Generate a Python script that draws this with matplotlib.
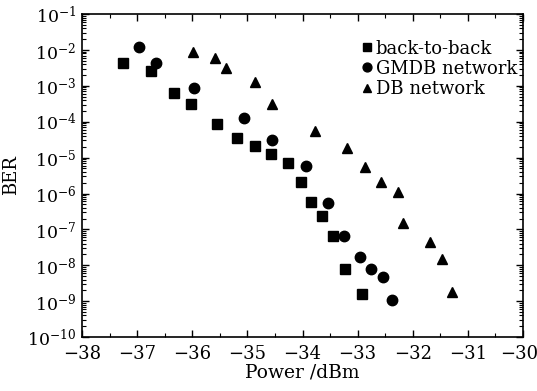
import numpy as np
import matplotlib
matplotlib.use("Agg")
import matplotlib.pyplot as plt
import matplotlib.transforms as mtransforms
from matplotlib.ticker import LogLocator, FixedLocator

plt.rcParams['font.family'] = 'DejaVu Serif'
plt.rcParams['mathtext.fontset'] = 'dejavuserif'

# back-to-back
b2b_x = [-37.25, -36.74, -36.34, -36.03, -35.56, -35.18, -34.87, -34.58, -34.27,
         -34.03, -33.85, -33.64, -33.45, -33.23, -32.92]
b2b_y = [4.3e-3, 2.6e-3, 6.3e-4, 3.1e-4, 8.7e-5, 3.5e-5, 2.1e-5, 1.26e-5, 7e-6,
         2.1e-6, 5.7e-7, 2.4e-7, 6.7e-8, 7.9e-9, 1.6e-9]

# GMDB network
gmdb_x = [-36.96, -36.66, -35.96, -35.07, -34.55, -33.94, -33.54, -33.25, -32.95,
          -32.75, -32.54, -32.37]
gmdb_y = [1.2e-2, 4.4e-3, 8.9e-4, 1.24e-4, 3e-5, 6e-6, 5.4e-7, 6.7e-8, 1.7e-8,
          7.9e-9, 4.6e-9, 1.07e-9]

# DB network
db_x = [-35.98, -35.58, -35.38, -34.87, -34.56, -33.78, -33.19, -32.87, -32.58,
        -32.27, -32.17, -31.68, -31.47, -31.29]
db_y = [8.9e-3, 5.8e-3, 3.1e-3, 1.3e-3, 3.05e-4, 5.5e-5, 1.9e-5, 5.6e-6, 2.05e-6,
        1.07e-6, 1.5e-7, 4.4e-8, 1.5e-8, 1.8e-9]

x_ticks = list(range(-38, -29))
x_minor = [v + 0.5 for v in range(-38, -30)]
y_exps = list(range(-10, 0))

fig = plt.figure(figsize=(5.37, 3.91), dpi=100)
ax = fig.add_axes([0.1527, 0.138, 0.8213, 0.826])

ax.semilogy(b2b_x, b2b_y, 's', color='black', ms=7, linestyle='none', label='back-to-back')
ax.semilogy(gmdb_x, gmdb_y, 'o', color='black', ms=7.5, linestyle='none', label='GMDB network')
ax.semilogy(db_x, db_y, '^', color='black', ms=6.5, linestyle='none', label='DB network')

ax.set_xlim(-38, -30)
ax.set_ylim(1e-10, 1e-1)
ax.xaxis.set_major_locator(FixedLocator(x_ticks))
ax.xaxis.set_minor_locator(FixedLocator(x_minor))
ax.yaxis.set_major_locator(FixedLocator([10.0 ** k for k in y_exps]))
ax.yaxis.set_minor_locator(LogLocator(base=10, subs=np.arange(2, 10), numticks=20))
ax.set_xticklabels(['\u2212%d' % (-v) for v in x_ticks])
ax.set_yticklabels(['$10^{%d}$' % k for k in y_exps])

ax.tick_params(which='both', direction='in', top=True, right=True)
ax.tick_params(axis='x', labelsize=13, pad=6)
ax.tick_params(axis='y', labelsize=12.5, pad=4)
ax.tick_params(which='major', length=5, width=1)
ax.tick_params(which='minor', length=3, width=0.8)
for s in ax.spines.values():
    s.set_linewidth(1.2)

# keep the last x label inside the canvas
last = ax.get_xticklabels()[-1]
last.set_transform(last.get_transform() +
                   mtransforms.ScaledTranslation(-4 / 100, 0, fig.dpi_scale_trans))

ax.set_xlabel('Power /dBm', fontsize=13.5, labelpad=0)
ax.set_ylabel('BER', fontsize=13, labelpad=5)

ax.legend(loc='upper right', bbox_to_anchor=(1.015, 0.96), frameon=False, fontsize=13,
          handletextpad=0.0, handlelength=1.0, labelspacing=0.12, borderpad=0.2,
          markerscale=0.85)

fig.savefig('out.png', dpi=100)
